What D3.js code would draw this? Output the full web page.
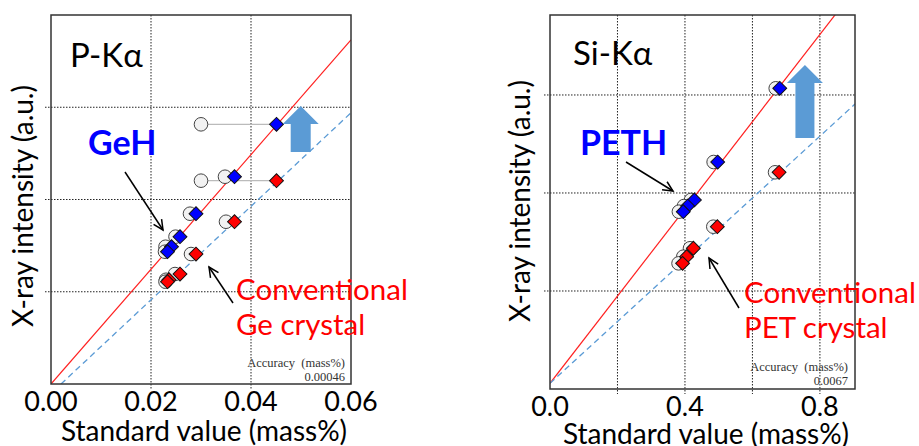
<!DOCTYPE html>
<html>
<head>
<meta charset="utf-8">
<script src="https://cdn.jsdelivr.net/npm/d3@7.9.0/dist/d3.min.js"></script>
<style>
  body { margin: 0; background: #fff; }
  svg { display: block; font-family: Lato, "Open Sans", sans-serif; }
</style>
</head>
<body>
<svg width="919" height="446"></svg>
<script>
// ---- P-Kα panel (GeH vs conventional Ge crystal) ----
const pHiX = [0.0451, 0.0367, 0.0290, 0.0258, 0.0241, 0.0233];
const pHiY = [2.815, 2.247, 1.846, 1.597, 1.488, 1.434];
const pHiRefX = [0.0300, 0.0348, 0.0278, 0.0249, 0.0229, 0.0228];
const pLoX = [0.0451, 0.0367, 0.0290, 0.0258, 0.0236, 0.0233];
const pLoY = [2.204, 1.759, 1.409, 1.192, 1.130, 1.109];
const pLoRefX = [0.0300, 0.0350, 0.0280, 0.0248, 0.0230, 0.0229];
const pFitHiX = [0, 0.06], pFitHiY = [0, 3.73];
const pFitLoX = [0.002, 0.06], pFitLoY = [0, 2.94];
const pTicks = [0, 0.02, 0.04, 0.06];
const pTickLabels = ['0.00', '0.02', '0.04', '0.06'];

// ---- Si-Kα panel (PETH vs conventional PET crystal) ----
const sHiX = [0.681, 0.497, 0.428, 0.408, 0.395];
const sHiY = [3.068, 2.316, 1.929, 1.867, 1.809];
const sHiRefX = [0.669, 0.485, 0.418, 0.397, 0.382];
const sLoX = [0.679, 0.496, 0.425, 0.405, 0.393];
const sLoY = [2.211, 1.656, 1.436, 1.350, 1.282];
const sLoRefX = [0.667, 0.484, 0.415, 0.395, 0.381];
const sFitHiX = [0, 0.904], sFitHiY = [0.058, 4.08];
const sFitLoX = [0, 0.904], sFitLoY = [0.058, 2.908];
const sTicks = [0.2, 0.4, 0.6, 0.8];
const sTickLabels = ['0.0', '0.4', '0.8'];
const sTickLabelVals = [0, 0.4, 0.8];

const yGrid = [1, 2, 3];

const svg = d3.select('svg');
let clipId = 0;

function drawPanel(c) {
  const x = d3.scaleLinear().domain(c.xDomain).range([c.left, c.right]);
  const y = d3.scaleLinear().domain(c.yDomain).range([c.bottom, c.top]);
  const g = svg.append('g');
  const id = 'clip' + (clipId++);
  g.append('clipPath').attr('id', id).append('rect')
    .attr('x', c.left).attr('y', c.top)
    .attr('width', c.right - c.left).attr('height', c.bottom - c.top);

  // grid
  const grid = g.append('g');
  c.gridX.forEach((v) => {
    grid.append('line').attr('x1', x(v)).attr('x2', x(v))
      .attr('y1', c.top).attr('y2', c.bottom + 5)
      .attr('stroke', '#222').attr('stroke-dasharray', '1.5,1.5');
  });
  yGrid.forEach((v) => {
    grid.append('line').attr('x1', c.left - 6).attr('x2', c.right)
      .attr('y1', y(v)).attr('y2', y(v))
      .attr('stroke', '#222').attr('stroke-dasharray', '1.5,1.5');
  });

  // fit lines
  const plot = g.append('g').attr('clip-path', `url(#${id})`);
  plot.append('line')
    .attr('x1', x(c.fitHiX[0])).attr('y1', y(c.fitHiY[0]))
    .attr('x2', x(c.fitHiX[1])).attr('y2', y(c.fitHiY[1]))
    .attr('stroke', '#ff2020').attr('stroke-width', 1.2);
  plot.append('line')
    .attr('x1', x(c.fitLoX[0])).attr('y1', y(c.fitLoY[0]))
    .attr('x2', x(c.fitLoX[1])).attr('y2', y(c.fitLoY[1]))
    .attr('stroke', '#5b9bd5').attr('stroke-width', 1.3)
    .attr('stroke-dasharray', '6,4');

  // connectors from reference circle to measured point
  const pairs = [];
  c.hiX.forEach((v, i) => pairs.push({ x: v, rx: c.hiRefX[i], y: c.hiY[i], color: '#0000ff' }));
  c.loX.forEach((v, i) => pairs.push({ x: v, rx: c.loRefX[i], y: c.loY[i], color: '#ff0000' }));
  plot.selectAll('line.conn').data(pairs).join('line').attr('class', 'conn')
    .attr('x1', (d) => x(d.rx)).attr('x2', (d) => x(d.x))
    .attr('y1', (d) => y(d.y)).attr('y2', (d) => y(d.y))
    .attr('stroke', '#bbb').attr('stroke-width', 1.2);
  plot.selectAll('circle.ref').data(pairs).join('circle').attr('class', 'ref')
    .attr('cx', (d) => x(d.rx)).attr('cy', (d) => y(d.y)).attr('r', 6.8)
    .attr('fill', '#f2f2f2').attr('stroke', '#444').attr('stroke-width', 1);
  const sym = d3.symbol().type(d3.symbolSquare).size(96);
  plot.selectAll('path.pt').data(pairs).join('path').attr('class', 'pt')
    .attr('d', sym)
    .attr('transform', (d) => `translate(${x(d.x)},${y(d.y)}) rotate(45)`)
    .attr('fill', (d) => d.color).attr('stroke', '#111').attr('stroke-width', 1);

  // block arrow
  const ax = x(c.arrow[0]), ay = y(c.arrow[1]);
  const hw = 18, hh = 18, sw = c.shaftW / 2, len = c.arrowLen;
  g.append('path')
    .attr('d', `M${ax},${ay} L${ax + hw},${ay + hh} L${ax + sw},${ay + hh} L${ax + sw},${ay + len}
      L${ax - sw},${ay + len} L${ax - sw},${ay + hh} L${ax - hw},${ay + hh} Z`)
    .attr('fill', '#5b9bd5');

  // frame
  g.append('rect').attr('x', c.left).attr('y', c.top)
    .attr('width', c.right - c.left).attr('height', c.bottom - c.top)
    .attr('fill', 'none').attr('stroke', '#333').attr('stroke-width', 1.5);

  // tick labels
  g.selectAll('text.tick').data(c.tickVals).join('text').attr('class', 'tick')
    .attr('x', (d) => x(d)).attr('y', c.tickBase)
    .attr('text-anchor', 'middle').attr('font-size', 27)
    .text((d, i) => c.tickLabels[i]);

  // axis titles
  g.append('text').attr('x', c.xTitle[0]).attr('y', c.xTitle[1])
    .attr('text-anchor', 'middle').attr('font-size', 28)
    .text('Standard value (mass%)');
  g.append('text')
    .attr('transform', `translate(${c.yTitle[0]},${c.yTitle[1]}) rotate(-90)`)
    .attr('text-anchor', 'middle').attr('font-size', 28)
    .text('X-ray intensity (a.u.)');

  // titles and labels
  g.append('text').attr('x', c.title[0]).attr('y', c.title[1])
    .attr('font-size', 33).text(c.titleText);
  g.append('text').attr('x', c.hiLabel[0]).attr('y', c.hiLabel[1])
    .attr('font-size', 34).attr('font-weight', 'bold').attr('fill', '#0000ff')
    .text(c.hiText);
  g.append('text').attr('x', c.loLabel[0]).attr('y', c.loLabel[1])
    .attr('font-size', 29.5).attr('fill', '#ff0000').text('Conventional');
  g.append('text').attr('x', c.loLabel[0]).attr('y', c.loLabel[1] + 35)
    .attr('font-size', 29.5).attr('fill', '#ff0000').text(c.loText);

  // pointer arrows
  c.pointers.forEach((p) => {
    const [x1, y1, x2, y2] = p;
    g.append('line').attr('x1', x1).attr('y1', y1).attr('x2', x2).attr('y2', y2)
      .attr('stroke', '#000').attr('stroke-width', 1.5);
    const a = Math.atan2(y2 - y1, x2 - x1);
    const L = 11, w = 0.45;
    g.append('path')
      .attr('d', `M${x2 - L * Math.cos(a - w)},${y2 - L * Math.sin(a - w)} L${x2},${y2} L${x2 - L * Math.cos(a + w)},${y2 - L * Math.sin(a + w)}`)
      .attr('fill', 'none').attr('stroke', '#000').attr('stroke-width', 1.5);
  });

  // accuracy note
  const acc = g.append('text').attr('text-anchor', 'end')
    .attr('font-family', '"Liberation Serif", "DejaVu Serif", serif')
    .attr('font-size', 12.5).attr('fill', '#333');
  acc.append('tspan').attr('x', c.acc[0]).attr('y', c.acc[1]).text('Accuracy\u00a0\u00a0(mass%)');
  acc.append('tspan').attr('x', c.acc[0]).attr('y', c.acc[1] + 13.5).text(c.accText);
}

drawPanel({
  left: 51, right: 351, top: 15, bottom: 384,
  xDomain: [0, 0.06], yDomain: [0, 4],
  gridX: [0.02, 0.04],
  hiX: pHiX, hiY: pHiY, hiRefX: pHiRefX,
  loX: pLoX, loY: pLoY, loRefX: pLoRefX,
  fitHiX: pFitHiX, fitHiY: pFitHiY, fitLoX: pFitLoX, fitLoY: pFitLoY,
  tickVals: pTicks, tickLabels: pTickLabels, tickBase: 411,
  xTitle: [204, 441], yTitle: [33, 206],
  title: [70, 67], titleText: 'P-K\u03b1',
  hiLabel: [88, 155], hiText: 'GeH',
  loLabel: [236, 300], loText: 'Ge crystal',
  pointers: [[125, 172, 163, 230], [233, 303, 209, 267]],
  arrow: [0.04994, 3.014], shaftW: 20, arrowLen: 46,
  acc: [345, 367], accText: '0.00046'
});

drawPanel({
  left: 550, right: 855, top: 15, bottom: 389,
  xDomain: [0, 0.904], yDomain: [0, 3.816],
  gridX: sTicks,
  hiX: sHiX, hiY: sHiY, hiRefX: sHiRefX,
  loX: sLoX, loY: sLoY, loRefX: sLoRefX,
  fitHiX: sFitHiX, fitHiY: sFitHiY, fitLoX: sFitLoX, fitLoY: sFitLoY,
  tickVals: sTickLabelVals, tickLabels: sTickLabels, tickBase: 416,
  xTitle: [706, 444], yTitle: [530, 201],
  title: [573, 65], titleText: 'Si-K\u03b1',
  hiLabel: [580, 155], hiText: 'PETH',
  loLabel: [744, 303], loText: 'PET crystal',
  pointers: [[626, 162, 673, 191], [739, 308, 709, 258]],
  arrow: [0.7556, 3.306], shaftW: 19, arrowLen: 73,
  acc: [848, 371], accText: '0.0067'
});
</script>
</body>
</html>
